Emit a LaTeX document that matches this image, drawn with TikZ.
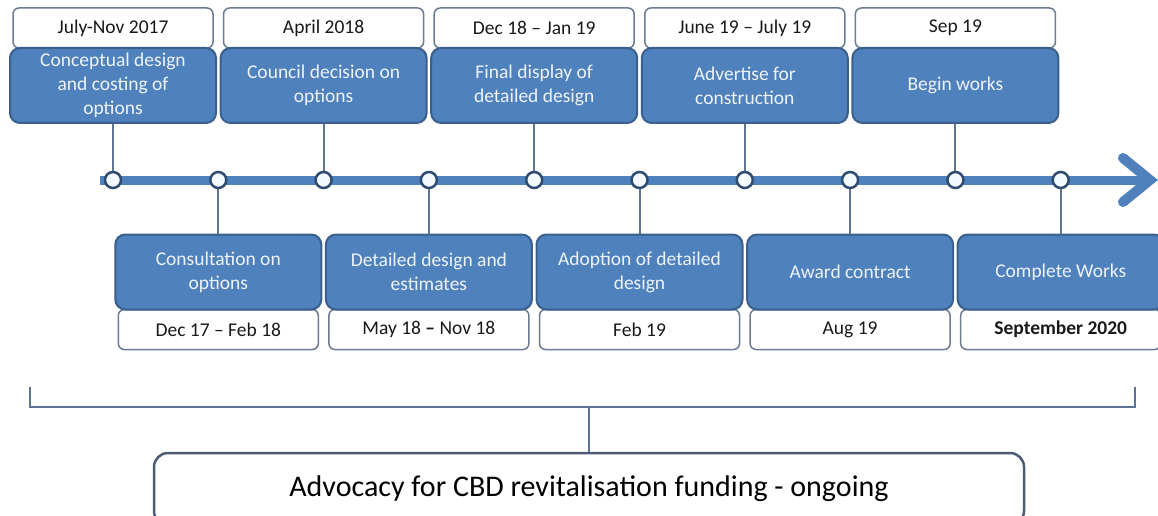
\documentclass[tikz,border=0pt]{standalone}
\usepackage{fontspec}
\setmainfont{Carlito}
\definecolor{boxblue}{HTML}{4F81BD}
\definecolor{boxedge}{HTML}{3A5F8C}
\definecolor{dateedge}{HTML}{6A7B93}
\definecolor{conn}{HTML}{5F7592}
\definecolor{circedge}{HTML}{2E4B70}
\definecolor{circfill}{HTML}{F4FAFF}
\definecolor{bracket}{HTML}{5A7396}
\definecolor{advedge}{HTML}{4D5C73}
\definecolor{boxtext}{HTML}{EEF3FA}
\begin{document}
\begin{tikzpicture}[x=1pt,y=-1pt,
  stagebox/.style={draw=boxedge, line width=2pt, fill=boxblue, rounded corners=10pt,
    minimum width=206pt, minimum height=75pt, inner sep=0pt, align=center,
    text=boxtext, font=\fontsize{19.5}{24}\selectfont},
  datebox/.style={draw=dateedge, line width=1.5pt, fill=white, rounded corners=6pt,
    minimum width=200pt, minimum height=40pt, inner sep=0pt, align=center,
    text=black!90, font=\fontsize{19.5}{24}\selectfont},
  mile/.style={circle, draw=circedge, line width=2.5pt, fill=circfill, minimum size=16pt, inner sep=0pt},
  link/.style={draw=conn, line width=2pt},
  timeline/.style={draw=boxblue, line width=9pt},
  bracketline/.style={draw=bracket, line width=2pt},
  advbox/.style={draw=advedge, line width=2.5pt, fill=white, rounded corners=14pt,
    minimum width=870pt, minimum height=72pt, inner sep=0pt,
    font=\fontsize{30}{34}\selectfont}
]
\useasboundingbox (0,0) rectangle (1158,516);
\clip (0,0) rectangle (1158,516);

% top date boxes
\node[datebox] (d1) at (113,28) {July-Nov 2017};
\node[datebox] (d3) at (323.6,28) {April 2018};
\node[datebox] (d5) at (534.2,28) {Dec 18 – Jan 19};
\node[datebox] (d7) at (744.8,28) {June 19 – July 19};
\node[datebox] (d9) at (955.4,28) {Sep 19};

% top stage boxes
\node[stagebox] (s1) at (113,85.5) {Conceptual design\\and costing of\\options};
\node[stagebox] (s3) at (323.6,85.5) {Council decision on\\options};
\node[stagebox] (s5) at (534.2,85.5) {Final display of\\detailed design};
\node[stagebox] (s7) at (744.8,85.5) {Advertise for\\construction};
\node[stagebox] (s9) at (955.4,85.5) {Begin works};

% bottom date boxes
\node[datebox] (d2) at (218.3,329.5) {Dec 17 – Feb 18};
\node[datebox] (d4) at (428.9,329.5) {May 18 \textbf{–} Nov 18};
\node[datebox] (d6) at (639.5,329.5) {Feb 19};
\node[datebox] (d8) at (850.1,329.5) {Aug 19};
\node[datebox] (d10) at (1060.7,329.5) {\textbf{September 2020}};

% bottom stage boxes
\node[stagebox] (s2) at (218.3,272) {Consultation on\\options};
\node[stagebox] (s4) at (428.9,272) {Detailed design and\\estimates};
\node[stagebox] (s6) at (639.5,272) {Adoption of detailed\\design};
\node[stagebox] (s8) at (850.1,272) {Award contract};
\node[stagebox] (s10) at (1060.7,272) {Complete Works};

% timeline
\coordinate (tstart) at (100,180);
\coordinate (tend) at (1145,180);
\coordinate (tip) at (1150,180);
\coordinate (barbA) at (1123,158);
\coordinate (barbB) at (1123,202);
\draw[timeline] (tstart) -- (tend);
\draw[draw=boxblue, line width=10pt, line cap=round, line join=miter] (barbA) -- (tip) -- (barbB);

% milestone coordinates
\foreach \i/\x in {1/113,2/218.3,3/323.6,4/428.9,5/534.2,6/639.5,7/744.8,8/850.1,9/955.4,10/1060.7}
  \coordinate (m\i) at (\x,180);

% connectors
\foreach \i in {1,3,5,7,9} \draw[link] (s\i.south) -- (m\i);
\foreach \i in {2,4,6,8,10} \draw[link] (m\i) -- (s\i.north);

% milestone circles
\foreach \i in {1,...,10} \node[mile] (c\i) at (m\i) {};

% bracket
\coordinate (bl) at (30,387);
\coordinate (br) at (1135,387);
\coordinate (blb) at (30,407);
\coordinate (brb) at (1135,407);
\coordinate (bmid) at (589,407);
\draw[bracketline] (bl) -- (blb) -- (brb) -- (br);

\node[advbox] (adv) at (589,489) {Advocacy for CBD revitalisation funding - ongoing};
\draw[bracketline] (bmid) -- (adv.north);
\end{tikzpicture}
\end{document}
